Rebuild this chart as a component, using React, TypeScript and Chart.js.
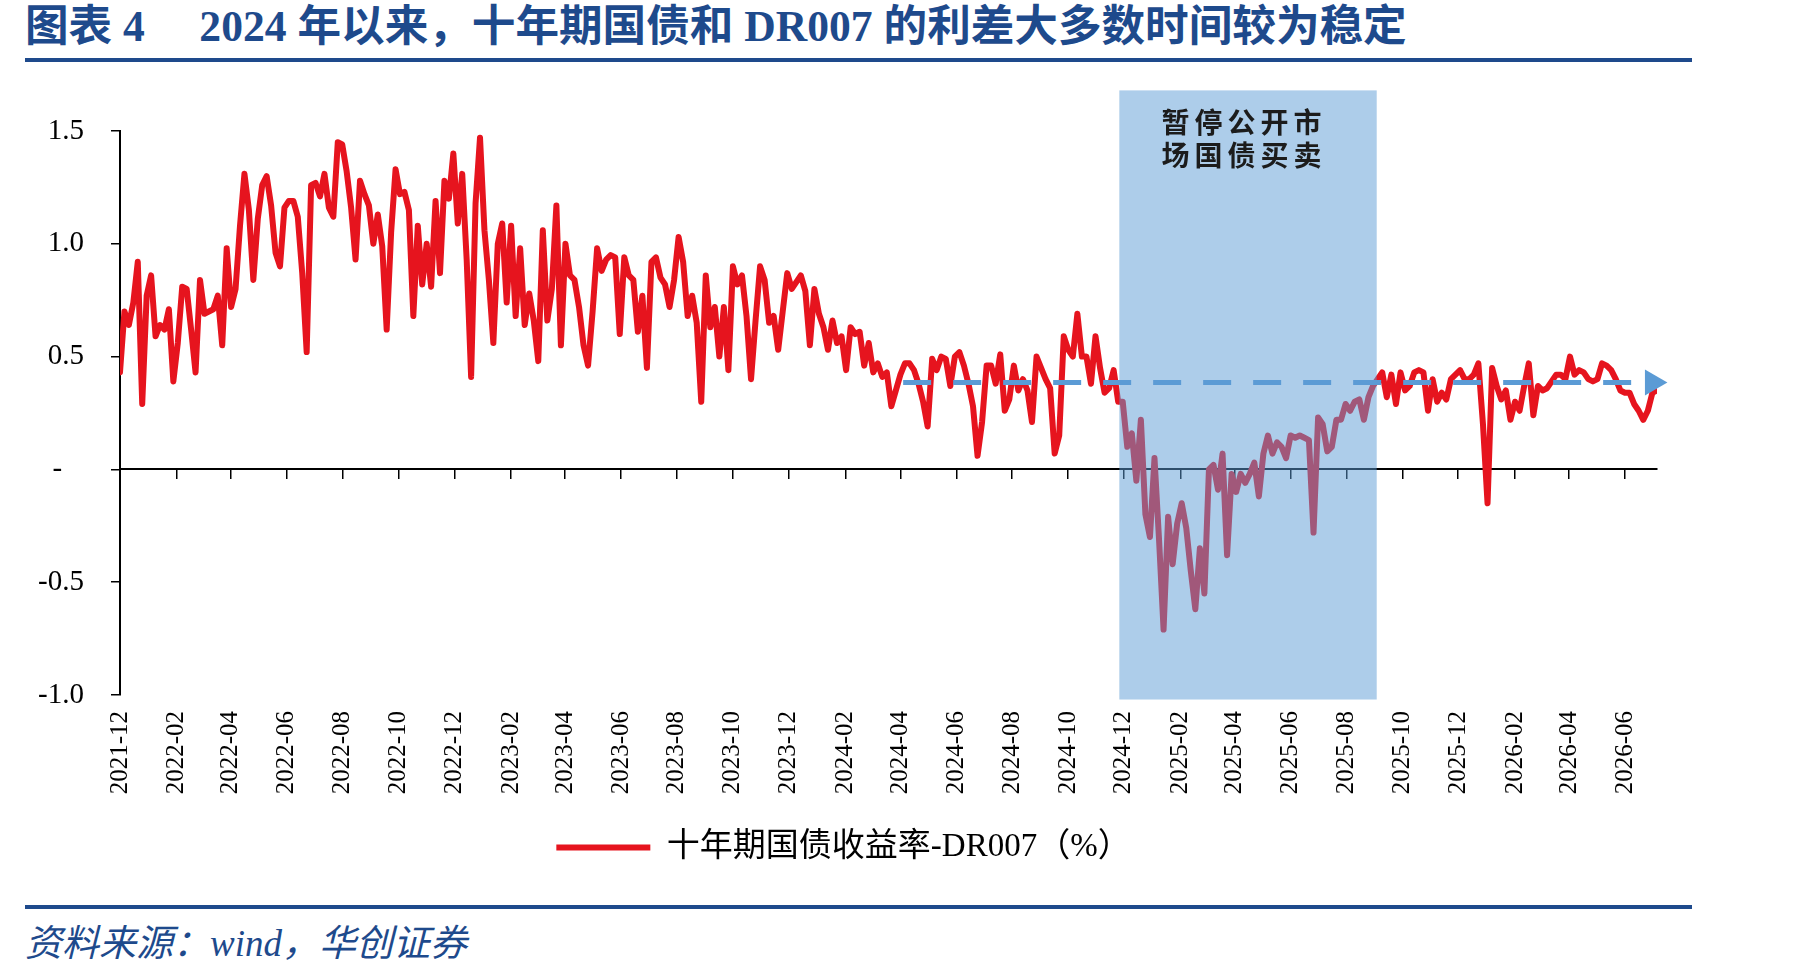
import React, { useEffect, useRef } from 'react';
import { Chart, registerables } from 'chart.js';

Chart.register(...registerables);

// ---------- data ----------
const AXIS_END = '2026-07-06';
const tickLabels = [
  '2021-12', '2022-02', '2022-04', '2022-06', '2022-08', '2022-10', '2022-12',
  '2023-02', '2023-04', '2023-06', '2023-08', '2023-10', '2023-12',
  '2024-02', '2024-04', '2024-06', '2024-08', '2024-10', '2024-12',
  '2025-02', '2025-04', '2025-06', '2025-08', '2025-10', '2025-12',
  '2026-02', '2026-04', '2026-06',
];

// boundaries of the sampled stretches (values spaced evenly inside each)
const segmentDates = ['2021-12-01', '2023-02-01', '2024-04-01', '2025-06-01', '2026-07-11'];

const spread2022 = [
  0.43, 0.70, 0.64, 0.74, 0.92, 0.29, 0.77, 0.86, 0.59, 0.64,
  0.62, 0.71, 0.39, 0.56, 0.81, 0.80, 0.62, 0.43, 0.84, 0.69,
  0.70, 0.71, 0.77, 0.55, 0.98, 0.72, 0.80, 1.08, 1.31, 1.15,
  0.84, 1.11, 1.26, 1.30, 1.17, 0.96, 0.90, 1.16, 1.19, 1.19,
  1.12, 0.87, 0.52, 1.26, 1.27, 1.21, 1.31, 1.16, 1.12, 1.45,
  1.44, 1.32, 1.16, 0.93, 1.28, 1.22, 1.17, 1.00, 1.13, 0.99,
  0.62, 1.05, 1.33, 1.22, 1.23, 1.15, 0.68, 1.08, 0.82, 1.00,
  0.81, 1.19, 0.87, 1.28, 1.20, 1.40, 1.09, 1.31, 0.93, 0.41,
  1.18, 1.47, 1.06, 0.84, 0.56, 1.00, 1.09, 0.74,
];

const spread2023 = [
  1.08, 0.68, 0.98, 0.64, 0.78, 0.66, 0.48, 1.06, 0.66, 0.80,
  1.17, 0.55, 1.00, 0.86, 0.84, 0.72, 0.55, 0.46, 0.70, 0.98,
  0.88, 0.93, 0.95, 0.94, 0.60, 0.94, 0.86, 0.84, 0.61, 0.77,
  0.45, 0.92, 0.94, 0.85, 0.82, 0.72, 0.84, 1.03, 0.92, 0.68,
  0.77, 0.65, 0.30, 0.86, 0.63, 0.72, 0.50, 0.72, 0.44, 0.90,
  0.82, 0.86, 0.68, 0.40, 0.66, 0.90, 0.84, 0.65, 0.68, 0.53,
  0.70, 0.87, 0.80, 0.83, 0.86, 0.79, 0.55, 0.80, 0.69, 0.63,
  0.53, 0.66, 0.56, 0.59, 0.44, 0.63, 0.60, 0.61, 0.46, 0.56,
  0.43, 0.47, 0.41, 0.43, 0.28, 0.35,
];

const spread2024 = [
  0.42, 0.47, 0.47, 0.44, 0.38, 0.30, 0.19, 0.49, 0.44, 0.50,
  0.49, 0.37, 0.50, 0.52, 0.46, 0.38, 0.28, 0.06, 0.21, 0.46,
  0.46, 0.38, 0.51, 0.26, 0.31, 0.46, 0.35, 0.40, 0.35, 0.21,
  0.50, 0.45, 0.40, 0.36, 0.07, 0.15, 0.59, 0.53, 0.50, 0.69,
  0.50, 0.50, 0.38, 0.59, 0.45, 0.34, 0.36, 0.44, 0.30, 0.30,
  0.10, 0.16, -0.05, 0.22, -0.20, -0.30, 0.05, -0.31, -0.71, -0.21,
  -0.42, -0.24, -0.15, -0.26, -0.45, -0.62, -0.35, -0.55, 0.00, 0.02,
  -0.09, 0.07, -0.38, -0.02, -0.10, -0.02, -0.06, -0.02, 0.03, -0.12,
  0.07, 0.15, 0.07, 0.12, 0.10, 0.05,
];

const spread2025 = [
  0.15, 0.14, 0.15, 0.14, 0.13, -0.28, 0.23, 0.20, 0.08, 0.10,
  0.22, 0.22, 0.29, 0.26, 0.30, 0.31, 0.22, 0.32, 0.37, 0.40,
  0.43, 0.32, 0.42, 0.29, 0.43, 0.35, 0.37, 0.43, 0.44, 0.43,
  0.26, 0.40, 0.30, 0.34, 0.31, 0.40, 0.42, 0.44, 0.40, 0.40,
  0.42, 0.47, 0.20, -0.15, 0.45, 0.37, 0.31, 0.35, 0.22, 0.30,
  0.26, 0.37, 0.47, 0.24, 0.37, 0.35, 0.36, 0.39, 0.42, 0.42,
  0.40, 0.50, 0.42, 0.44, 0.43, 0.40, 0.39, 0.40, 0.47, 0.46,
  0.44, 0.40, 0.35, 0.34, 0.34, 0.29, 0.26, 0.22, 0.26, 0.34,
  0.35,
];

const spreadSegments = [spread2022, spread2023, spread2024, spread2025];

const SERIES_LABEL = '十年期国债收益率-DR007（%）';

// shaded period & its label
const shadeStart = '2024-11-26';
const shadeEnd = '2025-09-03';
const shadeTop = 1.68;
const shadeBottom = -1.02;
const shadeLabel = ['暂停公开市', '场国债买卖'];
const shadeLabelY = [1.54, 1.39];

// dashed reference arrow
const trendValue = 0.385;
const trendStart = '2024-04-04';
const trendEnd = '2026-07-01';

const TITLE = '图表 4     2024 年以来，十年期国债和 DR007 的利差大多数时间较为稳定';
const SOURCE = '资料来源：wind，华创证券';

// ---------- helpers ----------
const RED = '#E6141E';
const BLUE = '#5B9BD5';
const NAVY = '#1E4A8C';
const SERIF = "'Liberation Serif', 'Noto Sans CJK SC', serif";

function dayOf(s: string): number {
  const [y, m, d] = s.split('-').map(Number);
  return (Date.UTC(y, m - 1, d || 1) - Date.UTC(2021, 11, 1)) / 86400000;
}

const tickDays = tickLabels.map((l) => dayOf(l + '-01'));

function buildSeries() {
  const pts: { x: number; y: number }[] = [];
  spreadSegments.forEach((vals, k) => {
    const s = dayOf(segmentDates[k]);
    const e = dayOf(segmentDates[k + 1]);
    const step = (e - s) / vals.length;
    vals.forEach((v, i) => pts.push({ x: s + i * step, y: v }));
  });
  return pts;
}

const shadePlugin = {
  id: 'shadePeriod',
  afterDatasetDraw(chart: any, args: any) {
    if (args.index !== 0) return;
    const { ctx } = chart;
    const xs = chart.scales.x;
    const ys = chart.scales.y;
    const x1 = xs.getPixelForValue(dayOf(shadeStart));
    const x2 = xs.getPixelForValue(dayOf(shadeEnd));
    const y1 = ys.getPixelForValue(shadeTop);
    const y2 = ys.getPixelForValue(shadeBottom);
    ctx.save();
    ctx.fillStyle = 'rgba(91,155,213,0.5)';
    ctx.fillRect(x1, y1, x2 - x1, y2 - y1);
    ctx.fillStyle = '#1c1c1c';
    ctx.font = "bold 28px 'Noto Sans CJK SC'";
    ctx.textAlign = 'center';
    ctx.textBaseline = 'middle';
    try { (ctx as any).letterSpacing = '5px'; } catch (e) { /* ignore */ }
    shadeLabel.forEach((t, i) => {
      ctx.fillText(t, (x1 + x2) / 2 - 4, ys.getPixelForValue(shadeLabelY[i]));
    });
    ctx.restore();
  },
};

function ChartCanvas() {
  const ref = useRef<HTMLCanvasElement | null>(null);
  useEffect(() => {
    if (!ref.current) return;
    Chart.defaults.font.family = SERIF;
    Chart.defaults.color = '#000';
    const xMax = dayOf(AXIS_END);
    const setTicks = (scale: any) => {
      scale.ticks = tickDays.map((v) => ({ value: v }));
    };
    const chart = new Chart(ref.current, {
      type: 'line',
      data: {
        datasets: [
          {
            label: SERIES_LABEL,
            data: buildSeries(),
            xAxisID: 'x',
            yAxisID: 'y',
            borderColor: RED,
            backgroundColor: RED,
            borderWidth: 6,
            borderJoinStyle: 'round',
            borderCapStyle: 'round',
            pointRadius: 0,
            tension: 0,
            order: 2,
          },
          {
            label: 'trend',
            data: [
              { x: dayOf(trendStart), y: trendValue },
              { x: dayOf(trendEnd), y: trendValue },
            ],
            xAxisID: 'x',
            yAxisID: 'y',
            borderColor: BLUE,
            backgroundColor: BLUE,
            borderWidth: 5,
            borderDash: [28, 22],
            borderCapStyle: 'butt',
            pointRadius: [0, 15],
            pointStyle: 'triangle',
            pointRotation: 90,
            pointBackgroundColor: BLUE,
            pointBorderWidth: 0,
            clip: false,
            order: 1,
          },
        ],
      } as any,
      options: {
        animation: false,
        responsive: false,
        events: [],
        layout: { padding: { top: 61, right: 144, bottom: 26, left: 30 } },
        plugins: {
          tooltip: { enabled: false },
          legend: {
            position: 'bottom',
            labels: {
              filter: (item: any) => item.datasetIndex === 0,
              usePointStyle: true,
              pointStyle: 'line',
              pointStyleWidth: 94,
              padding: 10,
              color: '#000',
              font: { size: 33, family: SERIF },
            },
          },
        },
        scales: {
          x: {
            type: 'linear',
            axis: 'x',
            position: 'bottom',
            min: 0,
            max: xMax,
            border: { display: false },
            grid: { display: false, drawTicks: false },
            afterBuildTicks: setTicks,
            afterFit: (s: any) => { s.height = 126; },
            ticks: {
              autoSkip: false,
              minRotation: 90,
              maxRotation: 90,
              padding: 16,
              color: '#000',
              font: { size: 25, family: SERIF },
              callback: (_v: any, i: number) => tickLabels[i],
            },
          },
          x0: {
            type: 'linear',
            axis: 'x',
            position: { y: 0 },
            min: 0,
            max: xMax,
            border: { display: true, color: '#000', width: 2 },
            grid: { display: true, drawOnChartArea: false, drawTicks: true, tickLength: 9, color: '#000', lineWidth: 1.5 },
            afterBuildTicks: setTicks,
            ticks: { display: false },
          },
          y: {
            type: 'linear',
            position: 'left',
            min: -1,
            max: 1.5,
            border: { display: true, color: '#000', width: 2 },
            grid: { drawOnChartArea: false, drawTicks: true, tickLength: 9, color: '#000', lineWidth: 1.5 },
            afterFit: (s: any) => { s.width = 90; },
            ticks: {
              stepSize: 0.5,
              padding: 27,
              color: '#000',
              font: { size: 29, family: SERIF },
              callback: (v: any) => (Math.abs(Number(v)) < 1e-9 ? '-   ' : Number(v).toFixed(1)),
            },
          },
        },
      } as any,
      plugins: [shadePlugin],
    });
    return () => chart.destroy();
  }, []);
  return (
    <canvas
      ref={ref}
      width={1801}
      height={830}
      style={{ position: 'absolute', left: 0, top: 70, width: 1801, height: 830 }}
    />
  );
}

export default function App() {
  return (
    <div
      style={{
        position: 'absolute',
        left: 0,
        top: 0,
        width: 1801,
        height: 978,
        background: '#fff',
        overflow: 'hidden',
      }}
    >
      <div
        style={{
          position: 'absolute',
          left: 25,
          top: 1,
          height: 50,
          lineHeight: '50px',
          whiteSpace: 'pre',
          fontFamily: SERIF,
          fontWeight: 'bold',
          fontSize: 43.6,
          color: NAVY,
        }}
      >
        {TITLE}
      </div>
      <div style={{ position: 'absolute', left: 25, top: 58, width: 1667, height: 3.5, background: NAVY }} />
      <ChartCanvas />
      <div style={{ position: 'absolute', left: 25, top: 905, width: 1667, height: 4, background: NAVY }} />
      <div
        style={{
          position: 'absolute',
          left: 25,
          top: 924,
          height: 40,
          lineHeight: '40px',
          whiteSpace: 'pre',
          fontFamily: SERIF,
          fontStyle: 'italic',
          fontSize: 37,
          color: NAVY,
        }}
      >
        {SOURCE}
      </div>
    </div>
  );
}
